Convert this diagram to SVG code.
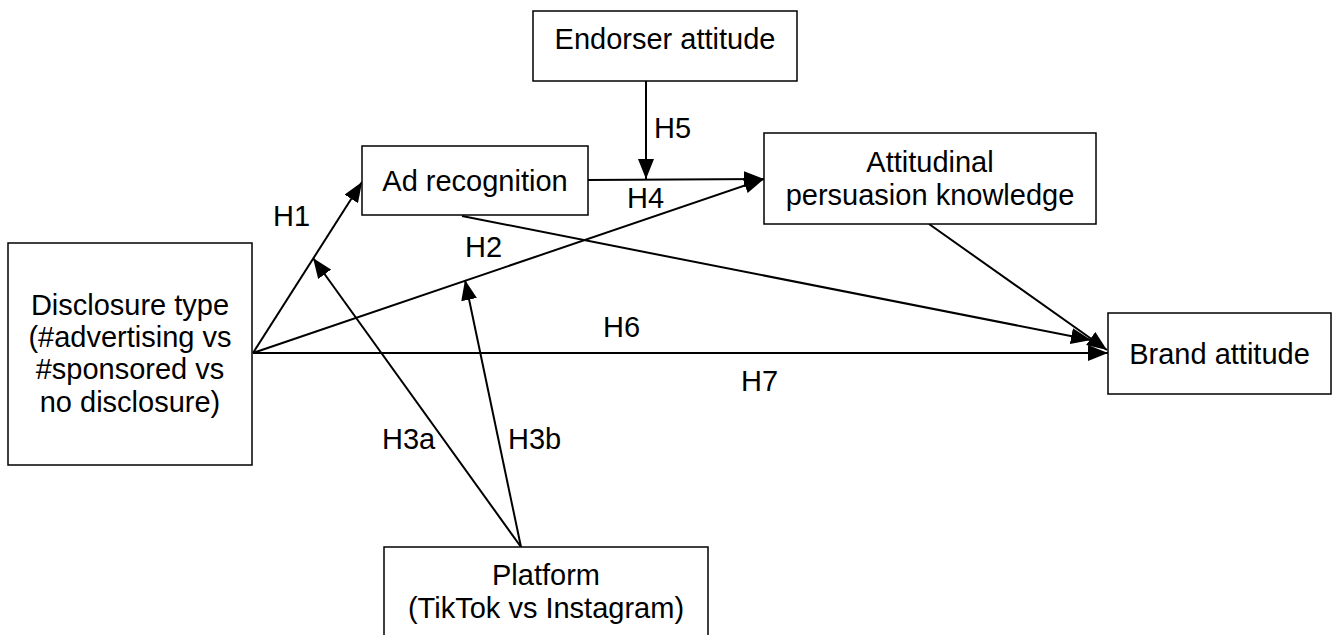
<svg xmlns="http://www.w3.org/2000/svg" width="1337" height="635" viewBox="0 0 1337 635">
<defs>
<marker id="ah" markerUnits="userSpaceOnUse" markerWidth="22" markerHeight="16" refX="20" refY="8" orient="auto">
<path d="M0,0 L20,8 L0,16 Z" fill="#000"/>
</marker>
<style>
.box{fill:#fff;stroke:#000;stroke-width:1.5}
.t{font-family:"Liberation Sans",Arial,sans-serif;font-size:29px;fill:#000}
.c{text-anchor:middle}
.ln{stroke:#000;stroke-width:2;fill:none;marker-end:url(#ah)}
</style>
</defs>
<rect width="1337" height="635" fill="#fff"/>
<g id="connectors">
<line class="ln" x1="253" y1="353" x2="362" y2="182"/>
<line class="ln" x1="253" y1="353" x2="764" y2="179"/>
<line class="ln" x1="253" y1="353" x2="1108" y2="353"/>
<line class="ln" x1="588" y1="180" x2="764" y2="179"/>
<line class="ln" x1="646" y1="81" x2="646" y2="179"/>
<line class="ln" x1="462" y1="216" x2="1091" y2="340"/>
<line class="ln" x1="929" y1="224" x2="1107" y2="350"/>
<line class="ln" x1="521" y1="547" x2="313" y2="258"/>
<line class="ln" x1="521" y1="547" x2="465" y2="280"/>
</g>
<g id="labels">
<text class="t" x="273" y="226">H1</text>
<text class="t" x="465" y="257">H2</text>
<text class="t" x="382" y="449">H3a</text>
<text class="t" x="508" y="449">H3b</text>
<text class="t" x="627" y="208">H4</text>
<text class="t" x="654" y="138">H5</text>
<text class="t" x="603" y="337">H6</text>
<text class="t" x="741" y="391">H7</text>
</g>
<g id="disclosure">
<rect class="box" x="8" y="243" width="244" height="222"/>
<text class="t c" x="130" y="315">Disclosure type</text>
<text class="t c" x="130" y="347">(#advertising vs</text>
<text class="t c" x="130" y="379">#sponsored vs</text>
<text class="t c" x="130" y="412">no disclosure)</text>
</g>
<g id="adrecognition">
<rect class="box" x="362" y="146" width="226" height="69"/>
<text class="t c" x="475" y="191">Ad recognition</text>
</g>
<g id="endorser">
<rect class="box" x="533" y="11" width="264" height="70"/>
<text class="t c" x="665" y="49">Endorser attitude</text>
</g>
<g id="attitudinal">
<rect class="box" x="764" y="133" width="332" height="91"/>
<text class="t c" x="930" y="172">Attitudinal</text>
<text class="t c" x="930" y="205">persuasion knowledge</text>
</g>
<g id="brand">
<rect class="box" x="1108" y="313" width="223" height="81"/>
<text class="t c" x="1219.5" y="364">Brand attitude</text>
</g>
<g id="platform">
<rect class="box" x="384" y="547" width="324" height="100"/>
<text class="t c" x="546" y="585">Platform</text>
<text class="t c" x="546" y="618">(TikTok vs Instagram)</text>
</g>
</svg>
